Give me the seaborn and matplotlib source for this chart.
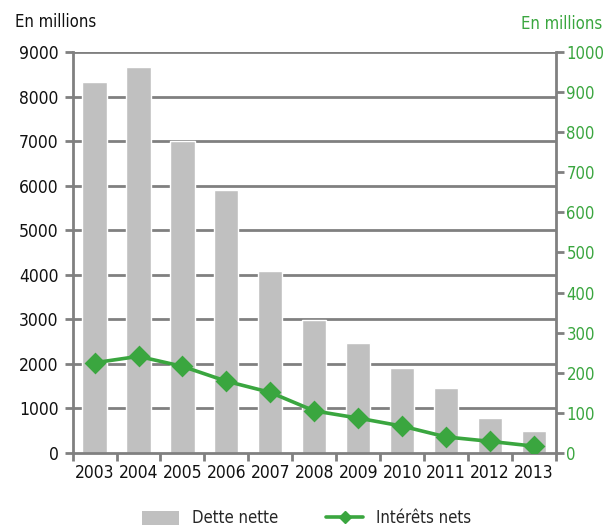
import matplotlib
matplotlib.use("Agg")
import matplotlib.pyplot as plt
import seaborn as sns
import pandas as pd
from matplotlib.patches import Patch
from matplotlib.lines import Line2D

years = ["2003", "2004", "2005", "2006", "2007", "2008", "2009", "2010", "2011", "2012", "2013"]
dette_nette = [8320, 8660, 7000, 5900, 4080, 2980, 2460, 1910, 1455, 790, 490]
interets_nets = [225, 241, 216, 179, 151, 105, 87, 67, 40, 29, 17]
left_ticks = [0, 1000, 2000, 3000, 4000, 5000, 6000, 7000, 8000, 9000]
right_ticks = [0, 100, 200, 300, 400, 500, 600, 700, 800, 900, 1000]

sns.set_style("white")
plt.rcParams["font.family"] = ["DejaVu Sans"]
plt.rcParams["font.stretch"] = "condensed"
plt.rcParams["font.weight"] = "normal"

GREEN = "#3aa63f"
BAR = "#c0c0c0"
GRID = "#808080"
TXT = "#111111"
FS = 12

df = pd.DataFrame({"annee": years, "dette": dette_nette, "interets": interets_nets})

fig = plt.figure(figsize=(6.05, 5.30), dpi=100)
ax = fig.add_axes([0.120, 0.1453, 0.799, 0.7566])

sns.barplot(data=df, x="annee", y="dette", color=BAR, width=0.55, saturation=1,
            ax=ax, zorder=2)
ax.set_ylim(0, 9000)
ax.set_yticks(left_ticks)
ax.set_yticklabels([str(t) for t in left_ticks])
ax.set_xlim(-0.5, len(years) - 0.5)
ax.set_xlabel("")
ax.set_ylabel("")
for t in left_ticks[1:]:
    ax.axhline(t, color=GRID, lw=2, zorder=1)

ax2 = ax.twinx()
sns.pointplot(data=df, x="annee", y="interets", color=GREEN, markers="D",
              linestyles="-", ax=ax2, linewidth=2.6, markersize=9)
ax2.set_ylim(0, 1000)
ax2.set_yticks(right_ticks)
ax2.set_yticklabels([str(t) for t in right_ticks])
ax2.set_xlim(-0.5, len(years) - 0.5)
ax2.set_xlabel("")
ax2.set_ylabel("")

for a in (ax, ax2):
    for s in a.spines.values():
        s.set_visible(False)
ax.spines["left"].set_visible(True)
ax.spines["bottom"].set_visible(True)
ax2.spines["right"].set_visible(True)
for s in (ax.spines["left"], ax.spines["bottom"], ax2.spines["right"]):
    s.set_color(GRID)
    s.set_linewidth(2)

ax.tick_params(axis="y", which="major", direction="out", length=6, width=2,
               color=GRID, labelsize=FS + 0.5, labelcolor=TXT, pad=4, left=True)
ax2.tick_params(axis="y", which="major", direction="out", length=6, width=2,
                color=GRID, labelsize=FS, labelcolor=GREEN, pad=1.5, right=True)
ax.set_xticks([i - 0.5 for i in range(len(years) + 1)], minor=True)
ax.tick_params(axis="x", which="minor", direction="out", length=6, width=2,
               color=GRID, bottom=True)
ax.tick_params(axis="x", which="major", length=0, labelsize=FS + 0.5,
               labelcolor=TXT, pad=8)

fig.text(0.025, 0.958, "En millions", fontsize=12, color=TXT, ha="left", va="center")
fig.text(0.995, 0.955, "En millions", fontsize=12, color=GREEN, ha="right", va="center")

handles = [Patch(facecolor=BAR, edgecolor="none"),
           Line2D([0], [0], color=GREEN, lw=2.6, marker="D", markersize=6)]
fig.legend(handles, ["Dette nette", "Intérêts nets"], loc="center",
           bbox_to_anchor=(0.507, 0.022), ncol=2, frameon=False, fontsize=FS,
           handlelength=2.2, handleheight=0.9, columnspacing=2.9, handletextpad=0.8)

fig.savefig("out.png", dpi=100)
